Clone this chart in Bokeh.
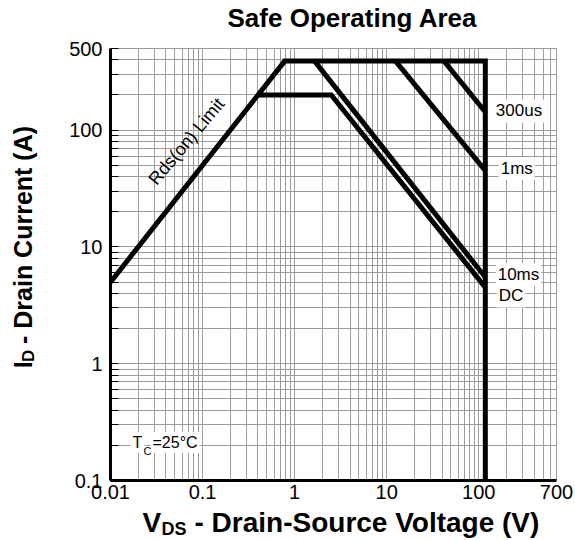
import math
from bokeh.plotting import figure
from bokeh.layouts import column, row
from bokeh.models import Label, FixedTicker, CustomJSTickFormatter, Range1d
from bokeh.core.properties import value
from bokeh.embed import file_html
from bokeh.resources import INLINE

# ---- data ----
envelope_v = [0.01, 0.78, 118, 118]
envelope_i = [5.0, 390, 390, 0.1]
t300us_v = [42, 118]
t300us_i = [390, 143]
t1ms_v = [12.5, 118]
t1ms_i = [390, 45]
t10ms_v = [1.65, 118]
t10ms_i = [390, 5.5]
dc_v = [0.4, 2.5, 118]
dc_i = [200, 200, 4.5]

x_major = [0.01, 0.1, 1, 10, 100, 700]
y_major = [0.1, 1, 10, 100, 500]
x_minor = [m * 10.0 ** e for e in range(-2, 2) for m in range(2, 10)] + [200, 300, 400, 500, 600]
y_minor = [m * 10.0 ** e for e in range(-1, 2) for m in range(2, 10)] + [200, 300, 400]

curve_labels = ["300us", "1ms", "10ms", "DC"]
curve_label_pos = [(146, 146), (165, 47), (153, 5.8), (157, 3.8)]

FONT = "Liberation Sans"
GRID = "#9c9c9c"

TOTAL_W = 574
TITLE_H = 38
MAIN_H = 470
XLAB_H = 30
YLAB_W = 40
MAIN_W = TOTAL_W - YLAB_W


def text_fig(w, h):
    f = figure(width=w, height=h, x_range=Range1d(0, w), y_range=Range1d(0, h),
               output_backend="svg", toolbar_location=None,
               x_axis_location=None, y_axis_location=None,
               min_border=0, min_border_left=0, min_border_right=0,
               min_border_top=0, min_border_bottom=0)
    f.grid.visible = False
    f.outline_line_color = None
    f.background_fill_color = None
    f.border_fill_color = None
    return f


# ---- main plot ----
p = figure(width=MAIN_W, height=MAIN_H, x_axis_type="log", y_axis_type="log",
           x_range=Range1d(0.01, 700), y_range=Range1d(0.1, 500),
           output_backend="svg", toolbar_location=None,
           min_border_left=70, min_border_right=18,
           min_border_top=10, min_border_bottom=28)
p.outline_line_color = GRID
p.outline_line_width = 1
p.background_fill_color = "white"
p.border_fill_color = "white"

p.xaxis.ticker = FixedTicker(ticks=x_major, minor_ticks=x_minor)
p.yaxis.ticker = FixedTicker(ticks=y_major, minor_ticks=y_minor)
fmt = "return tick.toString();"
p.xaxis.formatter = CustomJSTickFormatter(code=fmt)
p.yaxis.formatter = CustomJSTickFormatter(code=fmt)

for ax in (p.xaxis, p.yaxis):
    ax.axis_line_color = "black"
    ax.axis_line_width = 3
    ax.major_label_text_font = FONT
    ax.major_label_text_font_size = "20px"
    ax.major_label_text_color = "black"
    ax.major_tick_out = 0
    ax.minor_tick_out = 0
p.yaxis.major_tick_in = 8
p.yaxis.minor_tick_in = 8
p.yaxis.major_tick_line_color = "black"
p.yaxis.minor_tick_line_color = "black"
p.xaxis.major_tick_in = 0
p.xaxis.minor_tick_in = 0
p.yaxis.major_label_standoff = 8
p.xaxis.major_label_standoff = 4

for g in (p.xgrid, p.ygrid):
    g.grid_line_color = GRID
    g.grid_line_width = 1
    g.minor_grid_line_color = GRID
    g.minor_grid_line_width = 1

LW = 5
p.line(envelope_v, envelope_i, line_color="black", line_width=LW, line_join="miter")
p.line(t300us_v, t300us_i, line_color="black", line_width=LW)
p.line(t1ms_v, t1ms_i, line_color="black", line_width=LW)
p.line(t10ms_v, t10ms_i, line_color="black", line_width=LW)
p.line(dc_v, dc_i, line_color="black", line_width=LW, line_join="miter")

for txt, (lx, ly) in zip(curve_labels, curve_label_pos):
    p.add_layout(Label(x=lx, y=ly, text=txt, text_font=FONT, text_font_size="17px",
                       text_align="left", text_baseline="middle", text_color="black",
                       background_fill_color="white", padding=2))

# Tc = 25 C
p.add_layout(Label(x=0.0165, y=0.212, text="T", text_font=FONT, text_font_size="16px",
                   text_align="left", text_baseline="middle", text_color="black",
                   background_fill_color="white", padding=2))
p.add_layout(Label(x=0.0272, y=0.212, text="=25°C", text_font=FONT, text_font_size="16px",
                   text_align="left", text_baseline="middle", text_color="black",
                   background_fill_color="white", padding=2))
p.add_layout(Label(x=0.0228, y=0.178, text="C", text_font=FONT, text_font_size="11px",
                   text_align="left", text_baseline="middle", text_color="black"))

p.add_layout(Label(x=0.067, y=80, text="Rds(on) Limit", text_font=FONT, text_font_size="18px",
                   text_align="center", text_baseline="middle", angle=0.873, text_color="black"))

# ---- title ----
tf = text_fig(TOTAL_W, TITLE_H)
tf.text(x=[352], y=[TITLE_H - 17], text=["Safe Operating Area"], text_font=value(FONT),
        text_font_size=value("26px"), text_font_style="bold", text_color="black",
        text_align="center", text_baseline="middle")

# ---- y label: I_D - Drain Current (A) ----  (page y -> fig y)
top_y = TITLE_H
yf = text_fig(YLAB_W, MAIN_H)


def yy(page_y):
    return MAIN_H - (page_y - top_y)


yf.text(x=[22], y=[yy(386)], text=["I"], text_font=value(FONT), text_font_size=value("25px"),
        text_font_style="bold", text_color="black", angle=math.pi / 2,
        text_align="left", text_baseline="middle")
yf.text(x=[28], y=[yy(379)], text=["D"], text_font=value(FONT), text_font_size=value("17px"),
        text_font_style="bold", text_color="black", angle=math.pi / 2,
        text_align="left", text_baseline="middle")
yf.text(x=[22], y=[yy(359.5)], text=["- Drain Current (A)"], text_font=value(FONT),
        text_font_size=value("25px"), text_font_style="bold", text_color="black",
        angle=math.pi / 2, text_align="left", text_baseline="middle")

# ---- x label: V_DS - Drain-Source Voltage (V) ----
xf = text_fig(TOTAL_W, XLAB_H)
x_top = TITLE_H + MAIN_H


def xy(page_y):
    return XLAB_H - (page_y - x_top)


xf.text(x=[142], y=[xy(522)], text=["V"], text_font=value(FONT), text_font_size=value("28px"),
        text_font_style="bold", text_color="black", text_align="left", text_baseline="middle")
xf.text(x=[161], y=[xy(528)], text=["DS"], text_font=value(FONT), text_font_size=value("18px"),
        text_font_style="bold", text_color="black", text_align="left", text_baseline="middle")
xf.text(x=[194], y=[xy(522)], text=["- Drain-Source Voltage (V)"], text_font=value(FONT),
        text_font_size=value("28px"), text_font_style="bold", text_color="black",
        text_align="left", text_baseline="middle")

layout = column(tf, row(yf, p), xf)
open("out.html", "w").write(file_html(layout, INLINE))
